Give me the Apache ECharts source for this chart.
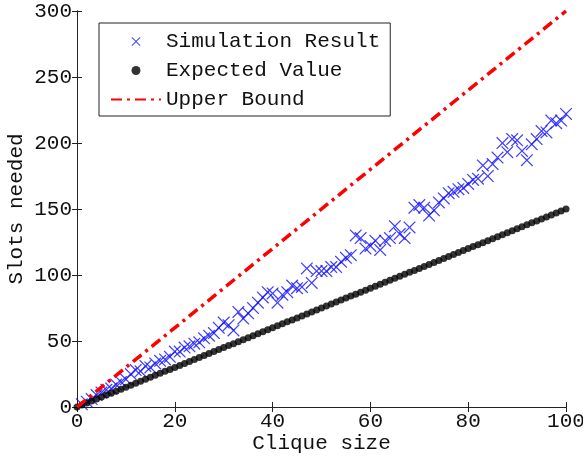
<!DOCTYPE html>
<html>
<head>
<meta charset="utf-8">
<script src="https://cdn.jsdelivr.net/npm/echarts@6/dist/echarts.min.js"></script>
<style>html,body{margin:0;padding:0;background:#fff}#c{width:583px;height:461px}</style>
</head>
<body>
<div id="c"></div>
<script>
var cliqueSizes = [1,2,3,4,5,6,7,8,9,10,11,12,13,14,15,16,17,18,19,20,21,22,23,24,25,26,27,28,29,30,31,32,33,34,35,36,37,38,39,40,41,42,43,44,45,46,47,48,49,50,51,52,53,54,55,56,57,58,59,60,61,62,63,64,65,66,67,68,69,70,71,72,73,74,75,76,77,78,79,80,81,82,83,84,85,86,87,88,89,90,91,92,93,94,95,96,97,98,99,100];
var simulationResult = [2,4,6,9,11,13,14,17,19,21,25,28,27,31,30,33,35,36,38,42,42,45,46,48,49,52,54,56,60,64,62,58,72,67,71,75,79,83,87,86,79,85,87,92,90,91,105,94,103,103,103,106,106,110,113,115,130,128,120,122,126,119,126,128,137,131,128,136,151,153,151,145,149,155,158,162,163,165,166,169,172,173,183,175,184,189,200,193,203,202,194,187,199,203,209,208,217,215,217,222];
var expectedX = [0,1,2,3,4,5,6,7,8,9,10,11,12,13,14,15,16,17,18,19,20,21,22,23,24,25,26,27,28,29,30,31,32,33,34,35,36,37,38,39,40,41,42,43,44,45,46,47,48,49,50,51,52,53,54,55,56,57,58,59,60,61,62,63,64,65,66,67,68,69,70,71,72,73,74,75,76,77,78,79,80,81,82,83,84,85,86,87,88,89,90,91,92,93,94,95,96,97,98,99,100];
var expectedValue = [0,1.5,3,4.5,6,7.5,9,10.5,12,13.5,15,16.5,18,19.5,21,22.5,24,25.5,27,28.5,30,31.5,33,34.5,36,37.5,39,40.5,42,43.5,45,46.5,48,49.5,51,52.5,54,55.5,57,58.5,60,61.5,63,64.5,66,67.5,69,70.5,72,73.5,75,76.5,78,79.5,81,82.5,84,85.5,87,88.5,90,91.5,93,94.5,96,97.5,99,100.5,102,103.5,105,106.5,108,109.5,111,112.5,114,115.5,117,118.5,120,121.5,123,124.5,126,127.5,129,130.5,132,133.5,135,136.5,138,139.5,141,142.5,144,145.5,147,148.5,150];
var upperBoundX = [0,100];
var upperBoundY = [0,300];
var xTicks = [0,20,40,60,80,100];
var yTicks = [0,50,100,150,200,250,300];
var seriesNames = ['Simulation Result','Expected Value','Upper Bound'];

function pairs(xs, ys){ var out=[]; for (var i=0;i<xs.length;i++) out.push([xs[i], ys[i]]); return out; }

var FONT = '"Liberation Mono","Courier New",monospace';
var chart = echarts.init(document.getElementById('c'), null, {renderer:'canvas'});
var axisCommon = {
  axisLine:{show:true, lineStyle:{color:'#222', width:1}},
  axisTick:{show:true, inside:true, length:5, lineStyle:{color:'#222'}},
  splitLine:{show:false}
};
var xMin = xTicks[0], xMax = xTicks[xTicks.length-1], xInt = xTicks[1]-xTicks[0];
var yMin = yTicks[0], yMax = yTicks[yTicks.length-1], yInt = yTicks[1]-yTicks[0];
var xSymbol = 'path://M0,0.7L0.7,0L5,4.3L9.3,0L10,0.7L5.7,5L10,9.3L9.3,10L5,5.7L0.7,10L0,9.3L4.3,5Z';

chart.setOption({
  animation:false,
  backgroundColor:'#fff',
  grid:{left:77, right:17, top:11, bottom:54, containLabel:false, outerBoundsMode:'none'},
  legend:{
    orient:'vertical', left:99, top:23,
    padding:[8,10,6,11],
    backgroundColor:'#fff', borderColor:'#222', borderWidth:1, borderRadius:0,
    itemWidth:50, itemHeight:9, itemGap:8,
    textStyle:{fontFamily:FONT, fontSize:21, color:'#111', lineHeight:21},
    data:[
      {name:seriesNames[0]},
      {name:seriesNames[1]},
      {name:seriesNames[2], itemStyle:{opacity:0}}
    ]
  },
  xAxis:[
    Object.assign({type:'value', min:xMin, max:xMax, interval:xInt, position:'bottom',
      name:'Clique size', nameLocation:'middle', nameGap:26, nameMoveOverlap:false,
      nameTextStyle:{fontFamily:FONT, fontSize:21, color:'#111'},
      axisLabel:{fontFamily:FONT, fontSize:21, color:'#111', margin:4}}, axisCommon),
    Object.assign({type:'value', min:xMin, max:xMax, interval:xInt, position:'top',
      axisLabel:{show:false}}, axisCommon)
  ],
  yAxis:[
    Object.assign({type:'value', min:yMin, max:yMax, interval:yInt, position:'left',
      name:'Slots needed', nameLocation:'middle', nameGap:50, nameMoveOverlap:false,
      nameTextStyle:{fontFamily:FONT, fontSize:21, color:'#111'},
      axisLabel:{fontFamily:FONT, fontSize:21, color:'#111', margin:5}}, axisCommon),
    Object.assign({type:'value', min:yMin, max:yMax, interval:yInt, position:'right',
      axisLabel:{show:false}}, axisCommon)
  ],
  series:[
    {name:seriesNames[0], type:'scatter', data:pairs(cliqueSizes, simulationResult),
      symbol:xSymbol, symbolSize:12.5, symbolKeepAspect:true,
      itemStyle:{color:'#1010ff'}, z:3},
    {name:seriesNames[1], type:'scatter', data:pairs(expectedX, expectedValue),
      symbol:'circle', symbolSize:7, itemStyle:{color:'#000'}, z:3},
    {name:seriesNames[2], type:'line', data:pairs(upperBoundX, upperBoundY),
      symbol:'none', showSymbol:false,
      lineStyle:{color:'#ff0000', width:3.5, type:[11,5,3,5]},
      itemStyle:{color:'#ff0000'}, z:4}
  ]
});
</script>
</body>
</html>
